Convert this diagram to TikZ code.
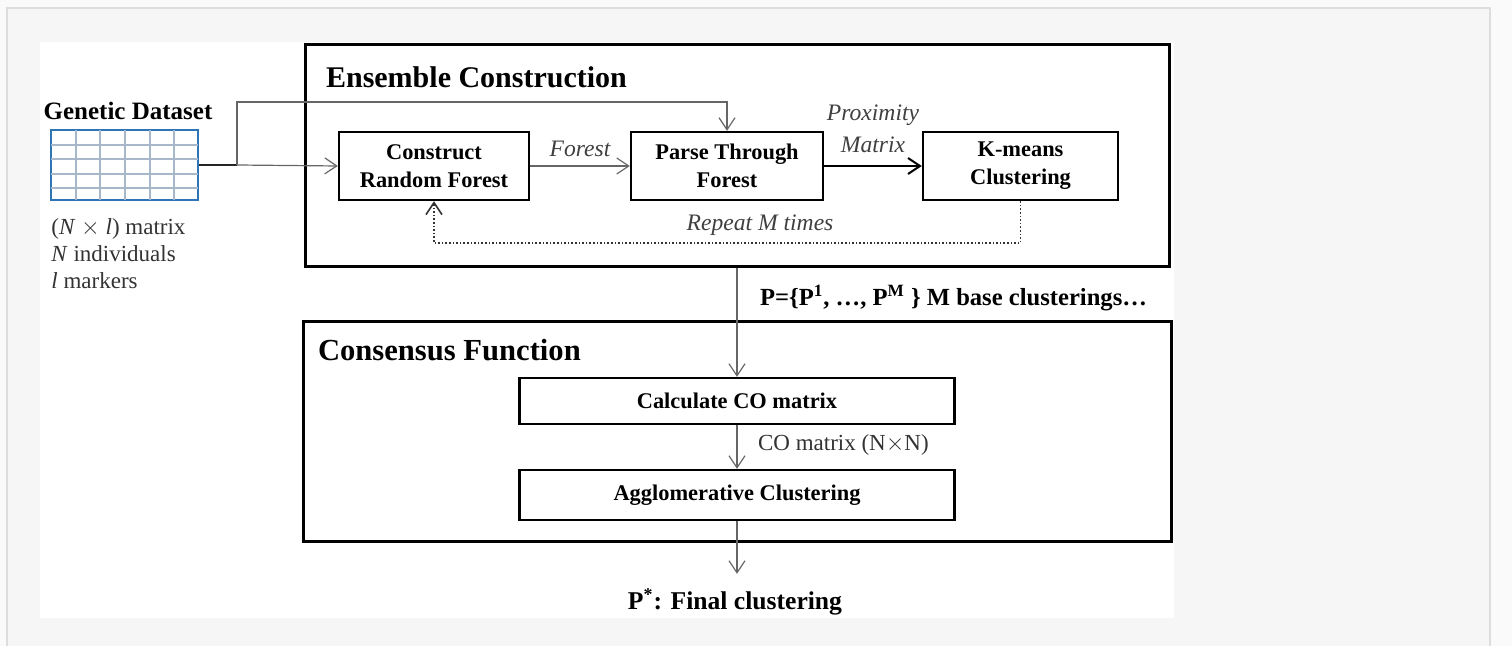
\documentclass[tikz,border=0pt]{standalone}
\usepackage{fontspec}
\setmainfont{Liberation Serif}
\usetikzlibrary{arrows.meta}

\definecolor{gridblue}{HTML}{2E75B6}
\definecolor{gridline}{HTML}{A7B7CA}
\definecolor{pageback}{HTML}{F6F6F6}
\definecolor{pageframe}{HTML}{DDDDDD}

\tikzset{
  panel/.style={draw, line width=1.5pt},
  stage/.style={draw, line width=1.2pt, fill=white, align=center, inner sep=0pt,
    font=\bfseries\fontsize{11.2}{14}\selectfont},
  flow/.style={->, draw=black!60, line width=0.6pt},
  tag/.style={font=\itshape\fontsize{11.8}{16}\selectfont, text=black!75, align=center},
}

\begin{document}
\begin{tikzpicture}[x=0.5pt,y=-0.5pt,>={Straight Barb[length=6pt,width=8pt]}]
% page and frame
\useasboundingbox (0,0) rectangle (1512,646);
\fill[fill=white!50!pageback] (0,0) rectangle (1512,646);
\draw[pageframe, fill=pageback, line width=1pt] (7,660) -- (7,8) -- (1490,8) -- (1490,660);
\fill[white] (40,42) rectangle (1174,618);

% input data
\node[font=\bfseries\fontsize{12.5}{14}\selectfont] (gdtitle) at (128,111) {Genetic Dataset};
\node[draw=gridblue, line width=1.3pt, minimum width=73.5pt, minimum height=35pt, inner sep=0pt] (data) at (124.5,165) {};
\foreach \x in {76,100,125,150,174}
  \draw[gridline, line width=0.8pt] (\x,130) -- (\x,200);
\foreach \y in {145,159,174,188}
  \draw[gridline, line width=0.8pt] (51,\y) -- (198,\y);
\node[anchor=north west, align=left, inner sep=0pt, text=black!80,
  font=\fontsize{11.5}{13.5}\selectfont] (datainfo) at (51,218)
  {(\textit{N} $\times$ \textit{l}) matrix\\ \textit{N} individuals\\ \textit{l} markers};

% ensemble construction
\node[panel, minimum width=432pt, minimum height=111pt] (ensemble) at (737,156) {};
\node[anchor=west, font=\bfseries\fontsize{15}{17}\selectfont] (enstitle) at (319,77) {Ensemble Construction};
\node[stage, minimum width=95pt, minimum height=34pt] (construct) at (434,166) {Construct\\Random Forest};
\node[stage, minimum width=96pt, minimum height=34pt] (parse) at (727,166) {Parse Through\\Forest};
\node[stage, minimum width=97.5pt, minimum height=34pt] (kmeans) at (1020.5,166) {K-means\\Clustering};

\coordinate (split) at (237,165);
\coordinate (bend) at (237,102);
\draw[black!85, line width=0.8pt] (data.east) -- (split);
\draw[flow] (split) -- (construct.west);
\draw[flow] (split) -- (bend) -| (parse.north);
\draw[flow] (construct.east) -- (parse.west) node[tag, midway, above=1pt] {Forest};
\draw[->, line width=1pt] (parse.east) -- (kmeans.west);
\node[tag] (proxlabel) at (873,129) {Proximity\\Matrix};
\draw[->, densely dotted, line width=0.8pt, black!80] (kmeans.south) -- ++(0,42) -| (construct.south);
\node[tag] (repeat) at (760,225) {Repeat M times};

% consensus function
\node[panel, minimum width=434pt, minimum height=110pt] (consensus) at (737,432) {};
\node[anchor=west, font=\bfseries\fontsize{15.3}{17}\selectfont] (contitle) at (311,350) {Consensus Function};
\node[stage, minimum width=217.5pt, minimum height=23pt] (calc) at (737,401) {Calculate CO matrix};
\node[stage, minimum width=217.5pt, minimum height=25pt] (agglo) at (737,495) {Agglomerative Clustering};

\draw[flow] (ensemble.south) -- (calc.north);
\node[anchor=west, font=\bfseries\fontsize{12.3}{14}\selectfont] (plist) at (753,298)
  {P=\{P\textsuperscript{1}, \ldots, P\textsuperscript{M}\ \} M base clusterings\ldots};
\draw[flow] (calc.south) -- (agglo.north);
\node[anchor=west, font=\fontsize{11.5}{13}\selectfont, text=black!80] (colabel) at (751,445) {CO matrix (N$\times$N)};
\node[font=\bfseries\fontsize{12.8}{14}\selectfont] (final) at (735,602) {P\textsuperscript{*}: Final clustering};
\draw[flow, shorten >=4pt] (agglo.south) -- (agglo.south |- final.north);
\end{tikzpicture}
\end{document}
